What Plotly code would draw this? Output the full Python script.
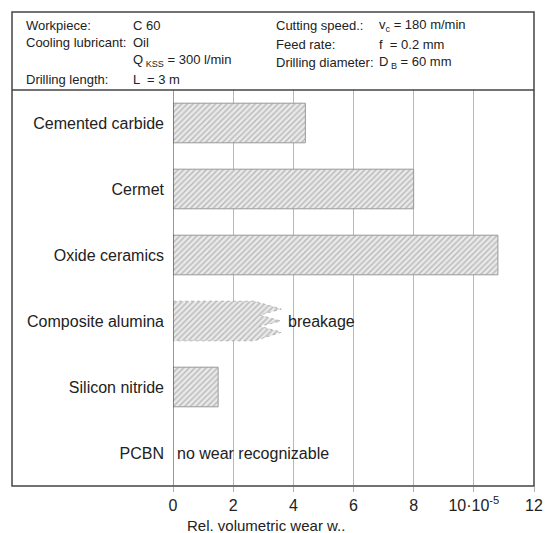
import plotly.graph_objects as go

# ---- data ----
materials = ["Cemented carbide", "Cermet", "Oxide ceramics",
             "Composite alumina", "Silicon nitride", "PCBN"]
wear_values = [4.4, 8.0, 10.8, None, 1.5, None]   # rel. volumetric wear (x 1e-5)
composite_base = 2.7     # solid part of the broken bar
composite_tip = 3.6      # tip of the breakage spikes
x_tickvals = [0, 2, 4, 6, 8, 10, 12]
x_ticktext = ["0", "2", "4", "6", "8", "10·10<sup>-5</sup>", "12"]

FONT = "Liberation Sans, Arial, Helvetica, sans-serif"
BAR_W = 0.6
pattern = dict(shape="/", size=4, solidity=0.35, fgcolor="#888888", bgcolor="#e9e9e9")

fig = go.Figure()

idx = [i for i, v in enumerate(wear_values) if v is not None]
fig.add_trace(go.Bar(
    x=[wear_values[i] for i in idx], y=idx, orientation="h", width=BAR_W,
    marker=dict(color="#e9e9e9", pattern=pattern,
                line=dict(color="#999999", width=1)),
    hoverinfo="skip", showlegend=False))

# broken bar for composite alumina (zig-zag end)
ci = materials.index("Composite alumina")
h = BAR_W / 2
b, t = composite_base, composite_tip
notch = b + (t - b) * 0.2
zx = [0, b, t, notch, t * 0.995, notch, t, b, 0, 0]
zy = [-h, -h, -0.18, -0.09, 0.0, 0.08, 0.17, h, h, -h]
fig.add_trace(go.Scatter(
    x=zx, y=[ci + v for v in zy], mode="lines", fill="toself",
    fillcolor="#e9e9e9", fillpattern=pattern,
    line=dict(color="#aaaaaa", width=0.8, dash="dot"),
    hoverinfo="skip", showlegend=False))

LBL = dict(size=16, family=FONT, color="#222")
fig.add_annotation(x=3.75, y=ci, text="breakage", showarrow=False, xanchor="left",
                   font=LBL)
fig.add_annotation(x=0.05, y=materials.index("PCBN"), text="no wear recognizable",
                   showarrow=False, xanchor="left", font=LBL)

fig.update_xaxes(range=[0, 12], tickvals=x_tickvals, ticktext=x_ticktext,
                 showgrid=True, gridcolor="#b8b8b8", gridwidth=1,
                 ticks="outside", ticklen=5, tickcolor="#b0b0b0",
                 tickfont=LBL, showline=False, zeroline=False, fixedrange=True)
fig.update_yaxes(range=[5.5, -0.5], tickvals=list(range(len(materials))),
                 ticktext=materials, ticks="", ticklabelstandoff=8,
                 tickfont=LBL, showgrid=False, zeroline=False, showline=False,
                 fixedrange=True)

# frame lines (paper coords: plot area spans x 173..543 px, y 90..486 px)
L = -165 / 370   # outer left border (x=8px)
TOP = (486 - 12) / 396
line_dark = dict(color="#444", width=1.5)
shapes = [
    dict(type="rect", xref="paper", yref="paper", x0=L, x1=1, y0=0, y1=TOP,
         line=line_dark),
    dict(type="line", xref="paper", yref="paper", x0=L, x1=1, y0=1, y1=1, line=line_dark),
    dict(type="line", xref="x", yref="paper", x0=0, x1=0, y0=0, y1=1,
         line=dict(color="#555", width=1.2)),
]
fig.update_layout(shapes=shapes)

# header text
hf = dict(size=13, family=FONT, color="#222")
def px2x(px):
    return (px - 173) / 370
def py2y(py):
    return (486 - py) / 396
header = [
    (20, 25, "Workpiece:"), (130, 25, "C 60"),
    (20, 43, "Cooling lubricant:"), (130, 43, "Oil"),
    (130, 61, "Q<sub> KSS</sub> = 300 l/min"),
    (20, 79, "Drilling length:"), (130, 79, "L  = 3 m"),
    (277, 25, "Cutting speed.:"), (382, 25, "v<sub>c</sub> = 180 m/min"),
    (277, 44, "Feed rate:"), (382, 44, "f  = 0.2 mm"),
    (277, 62, "Drilling diameter:"), (382, 62, "D<sub> B</sub> = 60 mm"),
]
for px, py, txt in header:
    fig.add_annotation(xref="paper", yref="paper", x=px2x(px), y=py2y(py),
                       text=txt, showarrow=False, xanchor="left", yanchor="middle",
                       font=hf)

fig.add_annotation(xref="x", yref="paper", x=3.1, y=py2y(525),
                   text="Rel. volumetric wear w..", showarrow=False,
                   xanchor="center", yanchor="middle",
                   font=dict(size=15, family=FONT, color="#222"))

fig.update_layout(width=555, height=533, margin=dict(l=173, r=12, t=90, b=47),
                  paper_bgcolor="white", plot_bgcolor="white", bargap=0.4)

fig.write_html("out.html", config={"displayModeBar": False},
               post_script=("document.body.style.margin='0';"
                            "document.body.style.padding='0';"
                            "document.documentElement.style.overflow='hidden';"))
